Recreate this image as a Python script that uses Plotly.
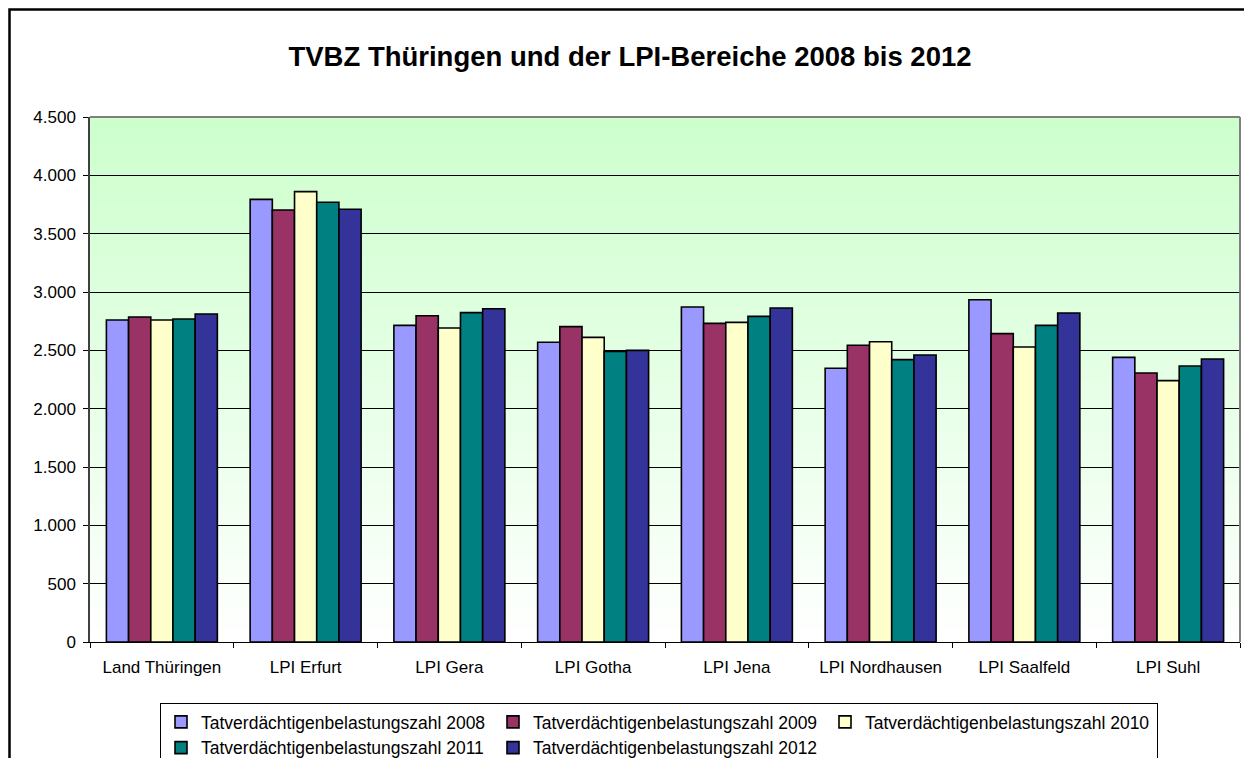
import plotly.graph_objects as go

# categories and yearly values
Bereiche = ["Land Thüringen", "LPI Erfurt", "LPI Gera", "LPI Gotha", "LPI Jena",
            "LPI Nordhausen", "LPI Saalfeld", "LPI Suhl"]

tvbz_2008 = [2760, 3794, 2714, 2569, 2871, 2346, 2934, 2440]
tvbz_2009 = [2786, 3703, 2797, 2703, 2731, 2543, 2643, 2306]
tvbz_2010 = [2760, 3860, 2691, 2611, 2740, 2574, 2529, 2240]
tvbz_2011 = [2769, 3769, 2823, 2491, 2791, 2420, 2714, 2366]
tvbz_2012 = [2811, 3709, 2857, 2500, 2863, 2460, 2820, 2426]

Jahre = ["2008", "2009", "2010", "2011", "2012"]
Farben = ["#9999FF", "#993366", "#FFFFCC", "#008080", "#333399"]

FONT = "Liberation Sans, Arial, sans-serif"

# plot area in figure pixels (page has an 8px body margin)
L, T, W, H = 82, 109, 1150, 525

fig = go.Figure()
for jahr, werte, farbe in zip(Jahre, [tvbz_2008, tvbz_2009, tvbz_2010, tvbz_2011, tvbz_2012], Farben):
    fig.add_trace(go.Bar(
        x=Bereiche, y=werte,
        name="Tatverdächtigenbelastungszahl " + jahr,
        marker=dict(color=farbe, line=dict(color="black", width=1.6)),
    ))

# plot area gradient: light green at top fading to white at the bottom
shapes = []
N = 80
for i in range(N):
    t = (i + 0.5) / N  # 0 bottom, 1 top
    r = round(255 - (255 - 204) * t)
    col = "rgb(%d,255,%d)" % (r, r)
    shapes.append(dict(type="rect", xref="x domain", yref="y domain",
                       x0=0, x1=1, y0=i / N, y1=min(1, (i + 1.6) / N),
                       fillcolor=col, line=dict(width=0), layer="below"))

# plot area border (top and right, grey)
shapes.append(dict(type="line", xref="x domain", yref="y domain", x0=0, x1=1, y0=1, y1=1,
                   line=dict(color="#808080", width=2), layer="above"))
shapes.append(dict(type="line", xref="x domain", yref="y domain", x0=1, x1=1, y0=0, y1=1,
                   line=dict(color="#808080", width=2), layer="above"))

# outer chart border (cut at the bottom and right of the picture)
shapes.append(dict(type="rect", xref="paper", yref="paper",
                   x0=(1.5 - L) / W, x1=(1275 - L) / W,
                   y0=(T + H - 800) / H, y1=(T + H - 1.5) / H,
                   line=dict(color="black", width=2.5), layer="above"))

fig.update_layout(
    width=1252, height=758,
    margin=dict(l=L, r=1252 - L - W, t=T, b=758 - T - H, autoexpand=False),
    paper_bgcolor="white",
    plot_bgcolor="white",
    separators=",.",
    font=dict(family=FONT, size=17, color="black"),
    title=dict(text="<b>TVBZ Thüringen und der LPI-Bereiche 2008 bis 2012</b>",
               x=622 / 1252, xanchor="center", y=1 - 48 / 758, yanchor="middle",
               font=dict(family=FONT, size=27.5, color="black")),
    barmode="group",
    bargap=0.228,
    bargroupgap=0,
    shapes=shapes,
    showlegend=True,
    legend=dict(orientation="h", x=(152 - L) / W, xanchor="left",
                y=(T + H - 695) / H, yanchor="top",
                bgcolor="white", bordercolor="black", borderwidth=1,
                entrywidth=287, entrywidthmode="pixels",
                font=dict(family=FONT, size=17.5, color="black"),
                traceorder="normal"),
    xaxis=dict(showgrid=False, showline=True, linecolor="black", linewidth=1,
               ticks="outside", tickson="boundaries", ticklen=5, tickcolor="black",
               ticklabelstandoff=10, tickfont=dict(size=17)),
    yaxis=dict(range=[0, 4500], dtick=500, tickformat=",d",
               showgrid=True, gridcolor="black", gridwidth=1,
               showline=True, linecolor="#404040", linewidth=1.5,
               ticks="outside", ticklen=5, tickcolor="black",
               ticklabelstandoff=4, zeroline=False, tickfont=dict(size=17)),
)

fig.write_html("out.html")
